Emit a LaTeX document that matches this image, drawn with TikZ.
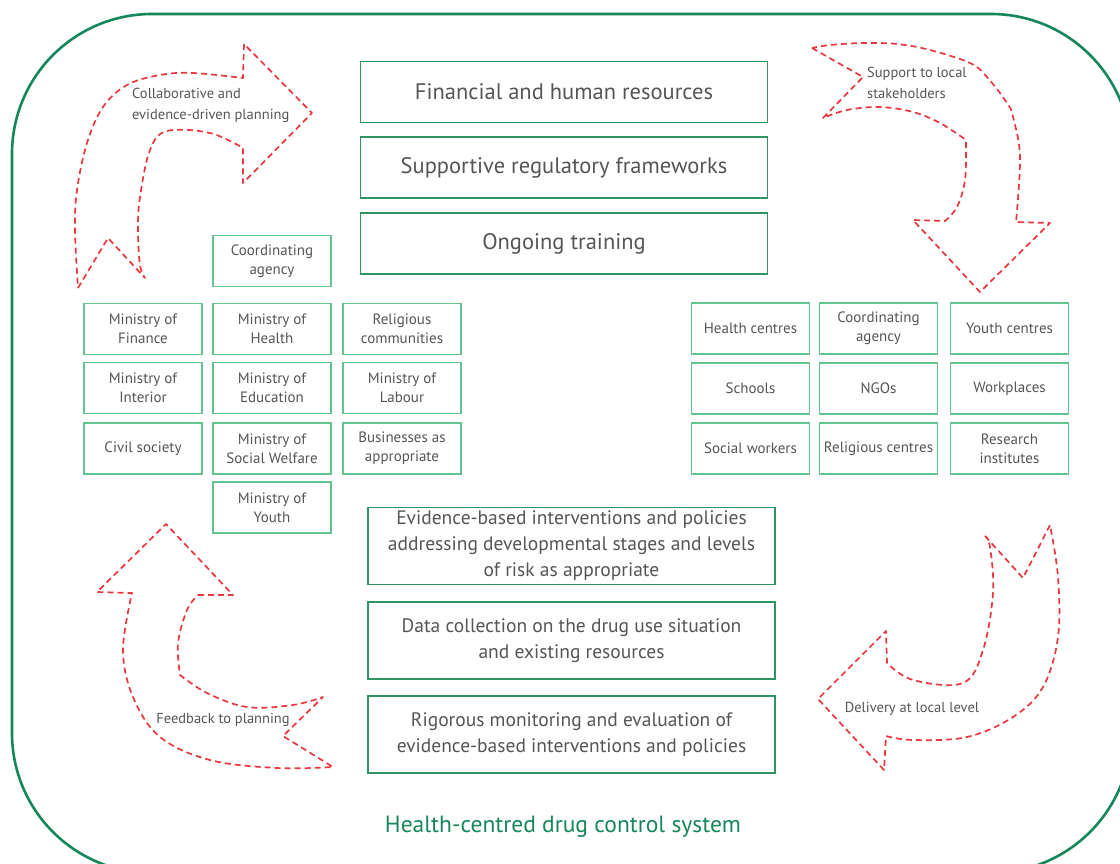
\documentclass[tikz,border=0pt]{standalone}
\usepackage{fontspec}
\setmainfont{PT Sans}
\definecolor{txt}{HTML}{555555}
\definecolor{dkgreen}{HTML}{16875A}
\definecolor{bgreen}{HTML}{2E9464}
\definecolor{lgreen}{HTML}{62C48F}
\definecolor{dred}{HTML}{E8373D}
\begin{document}
\begin{tikzpicture}[x=1pt,y=-1pt,
 bigbox/.style={draw=bgreen, line width=1.6pt, minimum width=407pt, inner sep=0pt, text=txt, align=center},
 topbox/.style={bigbox, minimum height=61pt, font=\fontsize{22.5}{26}\selectfont},
 botbox/.style={bigbox, minimum height=77pt, font=\fontsize{19.5}{26}\selectfont},
 smallbox/.style={draw=lgreen, line width=1.6pt, minimum width=118pt, minimum height=51pt, inner sep=0pt, text=txt, font=\fontsize{15}{19}\selectfont, align=center},
 lbl/.style={text=txt, font=\fontsize{14.5}{21}\selectfont, inner sep=0pt},
 dasharrow/.style={draw=dred, line width=1.7pt, dash pattern=on 6pt off 4pt, line join=round}]
\useasboundingbox (0,0) rectangle (1120,863);
\clip (0,0) rectangle (1120,863);
\draw[dkgreen, line width=2.6pt, rounded corners=140pt] (12,14) rectangle (1131,873);

% top boxes
\node[topbox] (fin) at (564,92) {Financial and human resources};
\node[topbox] (reg) at (564,167.5) {Supportive regulatory frameworks};
\node[topbox] (train) at (564,243.5) {Ongoing training};

% bottom boxes
\node[botbox] (evid) at (571.5,546) {Evidence-based interventions and policies\\addressing developmental stages and levels\\of risk as appropriate};
\node[botbox] (data) at (571.5,640.5) {Data collection on the drug use situation\\and existing resources};
\node[botbox] (mon) at (571.5,734.5) {Rigorous monitoring and evaluation of\\evidence-based interventions and policies};

% left grid
\node[smallbox] (ca1) at (272,261) {Coordinating\\agency};
\node[smallbox] (mfin) at (143,329) {Ministry of\\Finance};
\node[smallbox] (mhea) at (272,329) {Ministry of\\Health};
\node[smallbox] (rel) at (402,329) {Religious\\communities};
\node[smallbox] (mint) at (143,388) {Ministry of\\Interior};
\node[smallbox] (medu) at (272,388) {Ministry of\\Education};
\node[smallbox] (mlab) at (402,388) {Ministry of\\Labour};
\node[smallbox] (civ) at (143,448.5) {Civil society};
\node[smallbox] (msw) at (272,448.5) {Ministry of\\Social Welfare};
\node[smallbox] (bus) at (402,448.5) {Businesses as\\appropriate};
\node[smallbox] (myo) at (272,507.5) {Ministry of\\Youth};

% right grid
\node[smallbox] (hc) at (750.5,328.5) {Health centres};
\node[smallbox] (ca2) at (878.5,328.5) {Coordinating\\agency};
\node[smallbox] (yc) at (1009.5,328.5) {Youth centres};
\node[smallbox] (sch) at (750.5,388.5) {Schools};
\node[smallbox] (ngo) at (878.5,388.5) {NGOs};
\node[smallbox] (wp) at (1009.5,388.5) {Workplaces};
\node[smallbox] (sw) at (750.5,448.5) {Social workers};
\node[smallbox] (rc) at (878.5,448.5) {Religious centres};
\node[smallbox] (ri) at (1009.5,448.5) {Research\\institutes};

% dashed arrows
\draw[dasharrow] (78,288) -- (108,238) -- (145,278)
  -- plot[smooth, tension=0.6] coordinates {(145,278) (140,265) (138,230) (140,197) (150,150) (167,131) (210,133) (243,148)}
  -- (243,183) -- (312,113) -- (244,44) -- (243,78)
  -- plot[smooth, tension=0.6] coordinates {(243,78) (193,73) (160,75) (127,85) (103,107) (87,143) (77,190) (75,230) (78,288)};

\draw[dasharrow] (812,48) -- (863,77) -- (823,118)
  -- plot[smooth, tension=0.6] coordinates {(823,118) (847,110) (880,107) (913,112) (940,123) (966,140)}
  -- plot[smooth, tension=0.6] coordinates {(966,140) (965,180) (957,207) (945,221)}
  -- (913,220) -- (980,292) -- (1050,223) -- (1016,222)
  -- plot[smooth, tension=0.6] coordinates {(1016,222) (1020,157) (1013,117) (1007,103) (987,77) (970,63) (930,50) (897,44) (863,43) (830,45) (812,48)};

\draw[dasharrow] (198,595) -- (233,595) -- (166,524) -- (97,592) -- (132,593)
  -- plot[smooth, tension=0.6] coordinates {(132,593) (123,650) (133,697) (160,737) (210,760) (277,768) (333,767)}
  -- (283,736) -- (323,697)
  -- plot[smooth, tension=0.6] coordinates {(323,697) (293,705) (247,707) (207,693) (180,675)}
  -- plot[smooth, tension=0.6] coordinates {(180,675) (178,643) (187,610) (198,595)};

\draw[dasharrow] (985,536) -- (1023,578) -- (1050,525)
  -- plot[smooth, tension=0.6] coordinates {(1050,525) (1058,577) (1058,637) (1043,687) (1013,717) (967,737) (913,740) (886,736)}
  -- (884,770) -- (818,699) -- (886,631) -- (887,663)
  -- plot[smooth, tension=0.6] coordinates {(887,663) (913,680) (963,683) (983,650) (993,593) (990,547) (985,536)};

% arrow labels
\node[lbl, anchor=west, align=left] (l1) at (132,105.5) {Collaborative and\\evidence-driven planning};
\node[lbl, anchor=west, align=left] (l2) at (867,83) {Support to local\\stakeholders};
\node[lbl] (l3) at (223,720) {Feedback to planning};
\node[lbl] (l4) at (912,709) {Delivery at local level};

% title
\node[text=dkgreen, font=\fontsize{23.5}{26}\selectfont, inner sep=0pt] (title) at (563,827) {Health-centred drug control system};
\end{tikzpicture}
\end{document}
